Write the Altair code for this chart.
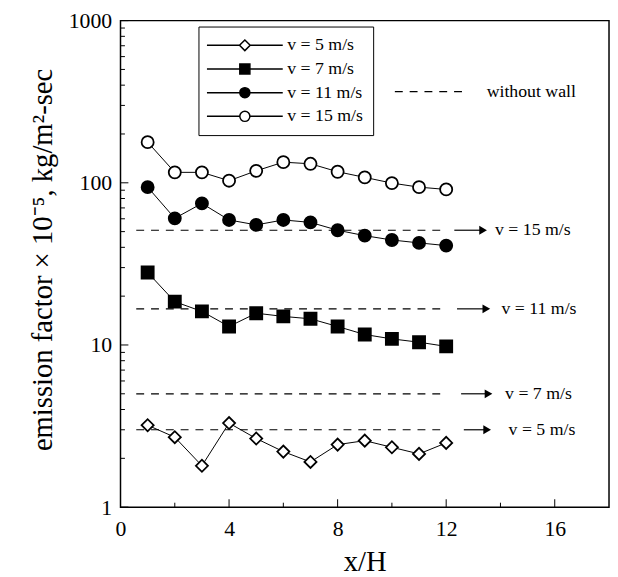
import altair as alt
import pandas as pd

# ---------------- data ----------------
x_h = [1, 2, 3, 4, 5, 6, 7, 8, 9, 10, 11, 12]
series_names = ["v = 5 m/s", "v = 7 m/s", "v = 11 m/s", "v = 15 m/s"]
v5 = [3.2, 2.7, 1.8, 3.3, 2.65, 2.2, 1.9, 2.43, 2.57, 2.34, 2.13, 2.49]
v7 = [28.0, 18.5, 16.1, 13.0, 15.7, 15.0, 14.5, 13.0, 11.6, 10.9, 10.4, 9.8]
v11 = [94.0, 60.4, 74.6, 59.0, 55.0, 59.0, 57.0, 51.0, 47.2, 44.4, 42.6, 41.0]
v15 = [178.0, 116.0, 116.0, 103.0, 118.5, 134.0, 131.0, 117.0, 108.0, 99.6, 94.0, 91.0]

wall_values = [3.0, 5.0, 16.7, 51.0]
wall_start = [0.58, 0.58, 0.58, 0.58]
wall_end = [11.8, 11.8, 11.8, 11.8]
arrow_start = [12.65, 12.55, 12.4, 12.3]
arrow_end = [13.65, 13.7, 13.62, 13.5]
label_x = [14.3, 14.17, 14.04, 13.8]
wall_legend_label = "without wall"

x_major_ticks = [0, 4, 8, 12, 16]
x_minor_ticks = [2, 6, 10, 14]
y_major_ticks = [1, 10, 100, 1000]
y_minor_ticks = [2, 3, 4, 5, 6, 7, 8, 9,
                 20, 30, 40, 50, 60, 70, 80, 90,
                 200, 300, 400, 500, 600, 700, 800, 900]

# ---------------- tables ----------------
series_rows = []
for name, vals in zip(series_names, [v5, v7, v11, v15]):
    for xv, yv in zip(x_h, vals):
        series_rows.append({"x": xv, "y": yv, "series": name})
series_df = pd.DataFrame(series_rows)

wall_df = pd.DataFrame({
    "y": wall_values,
    "x": wall_start,
    "x2": wall_end,
    "ax": arrow_start,
    "ax2": [e - 0.18 for e in arrow_end],
    "tip": [e - 0.14 for e in arrow_end],
    "lx": label_x,
    "label": series_names,
    "kind": [wall_legend_label] * 4,
})

W, H = 495, 493
FONT = "Liberation Serif"

xscale = alt.Scale(domain=[0, 18], nice=False, zero=False)
yscale = alt.Scale(type="log", domain=[1, 1000], nice=False)

xaxis = alt.Axis(values=x_major_ticks, title="x/H", ticks=False, domain=False, grid=False,
                 labelPadding=22, labelBaseline="middle", labelFontSize=22, labelFlush=False,
                 labelOverlap=False, format="d", titleFontSize=29, titleY=55,
                 titleBaseline="middle")
yaxis = alt.Axis(values=y_major_ticks, title="emission factor × 10⁻⁵, kg/m²-sec",
                 ticks=False, domain=False, grid=False, labelPadding=9, labelFontSize=22,
                 labelFlush=False, labelOverlap=False, format="d", titleFontSize=29,
                 titleAngle=270, titleX=-79, titleY=242, titleAlign="center",
                 titleBaseline="middle")


def X(field="x"):
    return alt.X(f"{field}:Q", scale=xscale, axis=xaxis)


def Y(field="y"):
    return alt.Y(f"{field}:Q", scale=yscale, axis=yaxis)


plot_shapes = ["diamond", "square", "circle", "circle"]
fills = ["white", "black", "black", "white"]
strokes = ["black", "black", "black", "black"]

# legend symbols: line through the marker
legend_paths = [
    "M-6.4,0H-0.9M0.9,0H6.4M0,-0.9L0.9,0L0,0.9L-0.9,0Z",
    "M-6.4,0H6.4M-0.85,-0.85H0.85V0.85H-0.85Z",
    "M-6.4,0H6.4M0.85,0A0.85,0.85,0,1,1,-0.85,0A0.85,0.85,0,1,1,0.85,0Z",
    "M-6.4,0H-0.85M0.85,0H6.4M0.85,0A0.85,0.85,0,1,1,-0.85,0A0.85,0.85,0,1,1,0.85,0Z",
]

lines = alt.Chart(series_df).mark_line(color="black", strokeWidth=1).encode(
    x=X(), y=Y(), detail="series:N"
)

points = alt.Chart(series_df).mark_point(
    filled=True, opacity=1, stroke="black", strokeWidth=1.8, size=150
).encode(
    x=X(), y=Y(),
    shape=alt.Shape("series:N", scale=alt.Scale(domain=series_names, range=plot_shapes), legend=None),
    fill=alt.Fill("series:N", scale=alt.Scale(domain=series_names, range=fills), legend=None),
)

series_legend = alt.Legend(
    title=None, orient="none", legendX=79, legendY=6, strokeColor="black",
    fillColor="white", padding=10, symbolSize=144, symbolStrokeWidth=1.5,
    symbolStrokeColor="black", symbolOpacity=1, symbolOffset=28, labelOffset=34,
    labelFont=FONT, labelFontSize=18, labelColor="black", rowPadding=6, labelLimit=0,
)

legend_layer = alt.Chart(series_df).mark_point(
    filled=True, opacity=1, strokeWidth=1.5, size=144
).encode(
    x=X(), y=Y(),
    shape=alt.Shape("series:N", scale=alt.Scale(domain=series_names, range=legend_paths),
                    legend=series_legend),
    fill=alt.Fill("series:N", scale=alt.Scale(domain=series_names, range=fills),
                  legend=series_legend),
    stroke=alt.Stroke("series:N", scale=alt.Scale(domain=series_names, range=strokes),
                      legend=series_legend),
).transform_filter("false")

wall_lines = alt.Chart(wall_df).mark_rule(color="black", strokeWidth=1.2).encode(
    x=X("x"), x2="x2:Q", y=Y("y"),
    strokeDash=alt.StrokeDash(
        "kind:N", scale=alt.Scale(domain=[wall_legend_label], range=[[8, 7]]),
        legend=alt.Legend(
            title=None, orient="none", legendX=275, legendY=63, padding=0,
            symbolType="M-6,0H6", symbolSize=144, symbolStrokeColor="black",
            symbolStrokeWidth=1.2, symbolOffset=30, labelOffset=48,
            labelFont=FONT, labelFontSize=18, labelColor="black", labelLimit=0,
        ),
    ),
)

arrows = alt.Chart(wall_df).mark_rule(color="black", strokeWidth=1.2).encode(
    x=X("ax"), x2="ax2:Q", y=Y("y")
)
heads = alt.Chart(wall_df).mark_point(
    shape="triangle-right", filled=True, opacity=1, color="black", size=80
).encode(x=X("tip"), y=Y("y"))
labels = alt.Chart(wall_df).mark_text(
    align="left", baseline="middle", font=FONT, fontSize=18, color="black"
).encode(x=X("lx"), y=Y("y"), text="label:N")

# inward axis ticks
ymaj = alt.Chart(pd.DataFrame({"y": y_major_ticks})).mark_rule(color="black", strokeWidth=1).encode(
    y=Y("y"), x=alt.value(0), x2=alt.value(8))
ymin = alt.Chart(pd.DataFrame({"y": y_minor_ticks})).mark_rule(color="black", strokeWidth=1).encode(
    y=Y("y"), x=alt.value(0), x2=alt.value(4.5))
xmaj = alt.Chart(pd.DataFrame({"x": x_major_ticks})).mark_rule(color="black", strokeWidth=1).encode(
    x=X("x"), y=alt.value(H), y2=alt.value(H - 8))
xmin = alt.Chart(pd.DataFrame({"x": x_minor_ticks})).mark_rule(color="black", strokeWidth=1).encode(
    x=X("x"), y=alt.value(H), y2=alt.value(H - 4.5))

chart = alt.layer(
    wall_lines, arrows, heads, labels, lines, points, legend_layer, ymaj, ymin, xmaj, xmin
).resolve_scale(
    shape="independent", fill="independent", stroke="independent"
).properties(
    width=W, height=H,
    autosize=alt.AutoSizeParams(type="none"),
    padding={"left": 114, "top": 9, "right": 1, "bottom": 68},
).configure(
    font=FONT, background="white"
).configure_view(
    stroke="black", strokeWidth=1.5
).configure_axis(
    labelColor="black", titleColor="black", labelFont=FONT, titleFont=FONT,
    titleFontWeight="normal"
)

chart.save("out.html", embed_options={"renderer": "svg", "actions": False})
